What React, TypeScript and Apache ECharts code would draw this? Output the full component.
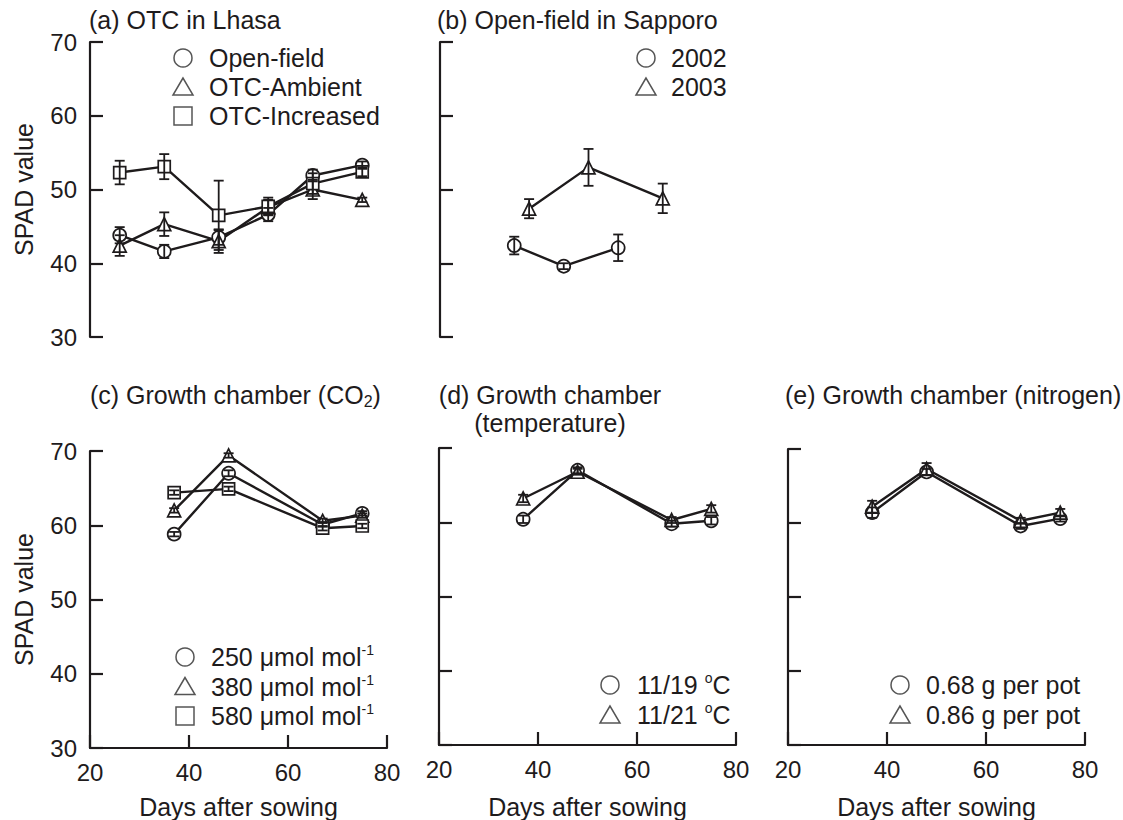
import React, { useEffect, useRef } from 'react';
import * as echarts from 'echarts';

const FONT = '"Liberation Sans", Arial, Helvetica, sans-serif';
const INK = '#1e1b1c';
const LEG = '#555555';
const FS = 25;

// ---------- (a) OTC in Lhasa ----------
const daysA = [26, 35, 46, 56, 65, 75];
const aOpenField = [43.8, 41.6, 43.5, 46.6, 51.9, 53.3];
const aOpenFieldErr = [1.1, 0.9, 1.0, 0.9, 0.8, 0.5];
const aOtcAmbient = [42.4, 45.3, 43.0, 47.6, 50.0, 48.6];
const aOtcAmbientErr = [1.4, 1.6, 1.6, 1.0, 1.3, 0.3];
const aOtcIncreased = [52.3, 53.1, 46.5, 47.7, 50.8, 52.4];
const aOtcIncreasedErr = [1.6, 1.7, 4.7, 1.2, 1.4, 0.6];

// ---------- (b) Open-field in Sapporo ----------
const daysB2002 = [35, 45, 56];
const b2002 = [42.4, 39.6, 42.1];
const b2002Err = [1.2, 0.4, 1.8];
const daysB2003 = [38, 50, 65];
const b2003 = [47.4, 53.0, 48.8];
const b2003Err = [1.3, 2.5, 2.0];

// ---------- (c)(d)(e) Growth chambers ----------
const daysChamber = [37, 48, 67, 75];
const c250 = [58.8, 67.0, 60.1, 61.6];
const c250Err = [0.3, 0.4, 0.3, 0.3];
const c380 = [62.0, 69.4, 60.6, 61.3];
const c380Err = [0.3, 0.3, 0.3, 0.3];
const c580 = [64.4, 64.9, 59.6, 59.9];
const c580Err = [0.3, 0.3, 0.3, 0.3];
const d1119 = [60.4, 67.0, 59.8, 60.2];
const d1119Err = [0.5, 0.4, 0.4, 0.5];
const d1121 = [63.2, 66.8, 60.3, 61.8];
const d1121Err = [0.5, 0.4, 0.4, 0.5];
const e068 = [61.4, 66.9, 59.6, 60.6];
const e068Err = [0.7, 0.4, 0.4, 0.4];
const e086 = [62.2, 67.3, 60.3, 61.4];
const e086Err = [0.8, 0.8, 0.4, 0.5];

// ---------- axis ticks / labels ----------
const xMin = 20, xMax = 80, xStep = 20;
const yMin = 30, yMax = 70, yStep = 10;
const yName = 'SPAD value';
const xName = 'Days after sowing';

const titles = [
  '(a) OTC in Lhasa',
  '(b) Open-field in Sapporo',
  '(c) Growth chamber (CO{sub|2})',
  '(d) Growth chamber\n(temperature)',
  '(e) Growth chamber (nitrogen)',
];

const legendA = ['Open-field', 'OTC-Ambient', 'OTC-Increased'];
const legendB = ['2002', '2003'];
const legendC = ['250 μmol mol{sup|-1}', '380 μmol mol{sup|-1}', '580 μmol mol{sup|-1}'];
const legendD = ['11/19 {sup|o}C', '11/21 {sup|o}C'];
const legendE = ['0.68 g per pot', '0.86 g per pot'];
const seriesNamesC = ['250 μmol mol-1', '380 μmol mol-1', '580 μmol mol-1'];
const seriesNamesD = ['11/19 °C', '11/21 °C'];

const SYMS = ['circle', 'triangle', 'rect'];

type Ser = { name: string; days: number[]; vals: number[]; errs: number[]; sym: string };

const panels: Ser[][] = [
  [
    { name: legendA[0], days: daysA, vals: aOpenField, errs: aOpenFieldErr, sym: SYMS[0] },
    { name: legendA[1], days: daysA, vals: aOtcAmbient, errs: aOtcAmbientErr, sym: SYMS[1] },
    { name: legendA[2], days: daysA, vals: aOtcIncreased, errs: aOtcIncreasedErr, sym: SYMS[2] },
  ],
  [
    { name: legendB[0], days: daysB2002, vals: b2002, errs: b2002Err, sym: SYMS[0] },
    { name: legendB[1], days: daysB2003, vals: b2003, errs: b2003Err, sym: SYMS[1] },
  ],
  [
    { name: seriesNamesC[0], days: daysChamber, vals: c250, errs: c250Err, sym: SYMS[0] },
    { name: seriesNamesC[1], days: daysChamber, vals: c380, errs: c380Err, sym: SYMS[1] },
    { name: seriesNamesC[2], days: daysChamber, vals: c580, errs: c580Err, sym: SYMS[2] },
  ],
  [
    { name: seriesNamesD[0], days: daysChamber, vals: d1119, errs: d1119Err, sym: SYMS[0] },
    { name: seriesNamesD[1], days: daysChamber, vals: d1121, errs: d1121Err, sym: SYMS[1] },
  ],
  [
    { name: legendE[0], days: daysChamber, vals: e068, errs: e068Err, sym: SYMS[0] },
    { name: legendE[1], days: daysChamber, vals: e086, errs: e086Err, sym: SYMS[1] },
  ],
];

const grids = [
  { left: 90, top: 42, width: 297, height: 295 },
  { left: 440, top: 42, width: 297, height: 295 },
  { left: 90, top: 451, width: 297, height: 297 },
  { left: 439, top: 448, width: 297, height: 297 },
  { left: 788, top: 449, width: 297, height: 296 },
];

function buildOption() {
  const axisLine = { show: true, onZero: false, lineStyle: { color: INK, width: 2.2 } };
  const axisTick = { show: true, inside: true, length: 13, lineStyle: { color: INK, width: 2.2 } };
  const xAxis = grids.map((_, i) => ({
    gridIndex: i,
    type: 'value',
    min: xMin,
    max: xMax,
    interval: xStep,
    show: i >= 2,
    axisLine,
    axisTick,
    splitLine: { show: false },
    axisLabel: { show: true, fontSize: 24, color: INK, fontFamily: FONT, margin: 12 },
    name: i >= 2 ? xName : '',
    nameLocation: 'middle',
    nameGap: i === 2 ? 46 : 49,
    nameTextStyle: { fontSize: FS, color: INK, fontFamily: FONT },
  }));
  const yAxis = grids.map((_, i) => ({
    gridIndex: i,
    type: 'value',
    min: yMin,
    max: yMax,
    interval: yStep,
    axisLine,
    axisTick,
    splitLine: { show: false },
    axisLabel: { show: i === 0 || i === 2, fontSize: 24, color: INK, fontFamily: FONT, margin: 13 },
    name: i === 0 || i === 2 ? yName : '',
    nameLocation: 'middle',
    nameGap: 54,
    nameTextStyle: { fontSize: FS, color: INK, fontFamily: FONT },
  }));

  const series: any[] = [];
  panels.forEach((list, pi) => {
    list.forEach((s) => {
      series.push({
        type: 'line',
        name: s.name,
        xAxisIndex: pi,
        yAxisIndex: pi,
        data: s.days.map((d, k) => [d, s.vals[k]]),
        symbol: s.sym,
        symbolSize: s.sym === 'rect' ? 12 : 13,
        showSymbol: true,
        lineStyle: { color: INK, width: 2.4 },
        itemStyle: { color: '#ffffff', borderColor: INK, borderWidth: 1.7 },
        emphasis: { disabled: true },
        silent: true,
        z: 2,
      });
      series.push({
        type: 'custom',
        name: s.name + ' error',
        xAxisIndex: pi,
        yAxisIndex: pi,
        data: s.days.map((d, k) => [d, s.vals[k], s.errs[k]]),
        encode: { x: 0, y: 1 },
        silent: true,
        z: 3,
        renderItem: (_p: any, api: any) => {
          const x = api.value(0);
          const y = api.value(1);
          const e = api.value(2);
          const hi = api.coord([x, y + e]);
          const lo = api.coord([x, y - e]);
          const w = 5;
          const style = { stroke: INK, lineWidth: 1.8 };
          return {
            type: 'group',
            children: [
              { type: 'line', shape: { x1: hi[0], y1: hi[1], x2: lo[0], y2: lo[1] }, style },
              { type: 'line', shape: { x1: hi[0] - w, y1: hi[1], x2: hi[0] + w, y2: hi[1] }, style },
              { type: 'line', shape: { x1: lo[0] - w, y1: lo[1], x2: lo[0] + w, y2: lo[1] }, style },
            ],
          };
        },
      });
    });
  });

  const rich = {
    sup: { fontSize: 14, lineHeight: 20, verticalAlign: 'top', fontFamily: FONT, fill: INK },
    sub: { fontSize: 16, lineHeight: 14, verticalAlign: 'bottom', fontFamily: FONT, fill: INK },
  };
  const textStyle = (text: string, x: number, y: number, align = 'left') => ({
    type: 'text',
    x,
    y,
    silent: true,
    style: {
      text,
      fontSize: FS,
      fontFamily: FONT,
      fill: INK,
      align,
      verticalAlign: 'middle',
      lineHeight: 28,
      rich,
    },
  });

  const graphic: any[] = [];
  graphic.push(textStyle(titles[0], 89, 20));
  graphic.push(textStyle(titles[1], 437, 20));
  graphic.push(textStyle(titles[2], 90, 395));
  graphic.push(textStyle(titles[3], 550, 409, 'center'));
  graphic.push(textStyle(titles[4], 785, 395));

  const marker = (sym: string, cx: number, cy: number) => {
    const style = { fill: 'none', stroke: LEG, lineWidth: 1.5 };
    if (sym === 'circle') return { type: 'circle', silent: true, shape: { cx, cy, r: 9 }, style };
    if (sym === 'triangle')
      return {
        type: 'polygon',
        silent: true,
        shape: { points: [[cx, cy - 9], [cx - 10, cy + 8], [cx + 10, cy + 8]] },
        style,
      };
    return { type: 'rect', silent: true, shape: { x: cx - 9, y: cy - 9, width: 18, height: 18 }, style };
  };
  const legend = (labels: string[], mx: number, tx: number, rows: number[]) => {
    labels.forEach((lab, k) => {
      graphic.push(marker(SYMS[k], mx, rows[k]));
      graphic.push(textStyle(lab, tx, rows[k]));
    });
  };
  legend(legendA, 183, 209, [58, 87, 116]);
  legend(legendB, 646, 671, [58, 87]);
  legend(legendC, 185, 211, [657, 686.5, 716]);
  legend(legendD, 610, 637, [685, 715]);
  legend(legendE, 900, 926, [685, 715]);

  return {
    animation: false,
    backgroundColor: '#ffffff',
    textStyle: { fontFamily: FONT },
    grid: grids,
    xAxis,
    yAxis,
    series,
    graphic,
  };
}

export default function App() {
  const ref = useRef<HTMLDivElement>(null);
  useEffect(() => {
    if (!ref.current) return;
    const chart = echarts.init(ref.current, undefined, { renderer: 'svg' });
    chart.setOption(buildOption() as any);
    return () => chart.dispose();
  }, []);
  return (
    <div
      ref={ref}
      style={{ position: 'fixed', left: 0, top: 0, width: 1123, height: 820, background: '#fff' }}
    />
  );
}
